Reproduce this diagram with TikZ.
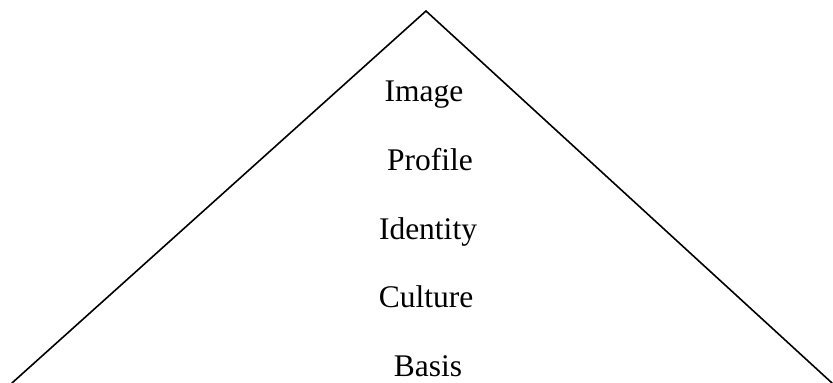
\documentclass[tikz,border=0pt]{standalone}
\usepackage{fontspec}
\setmainfont{Liberation Serif}
\usepackage{tikz}
\usetikzlibrary{positioning}

\begin{document}
\begin{tikzpicture}[line cap=round,line join=round,x=1pt,y=1pt,
  lbl/.style={anchor=base,inner sep=0pt,font=\fontsize{31.5}{38}\selectfont}]
\useasboundingbox (0,0) rectangle (833,383);
\coordinate (lft) at (12,0);
\coordinate (apex) at (426,372);
\coordinate (rgt) at (832,0);
\draw [line width=1.6pt] (lft)-- (apex);
\draw [line width=1.6pt] (apex)-- (rgt);
\node[lbl] (image) at (424,281) {Image};
\node[lbl] (profile) at (430,212) {Profile};
\node[lbl] (identity) at (428,143) {Identity};
\node[lbl] (culture) at (426,75) {Culture};
\node[lbl] (basis) at (428,6) {Basis};
\end{tikzpicture}
\end{document}
